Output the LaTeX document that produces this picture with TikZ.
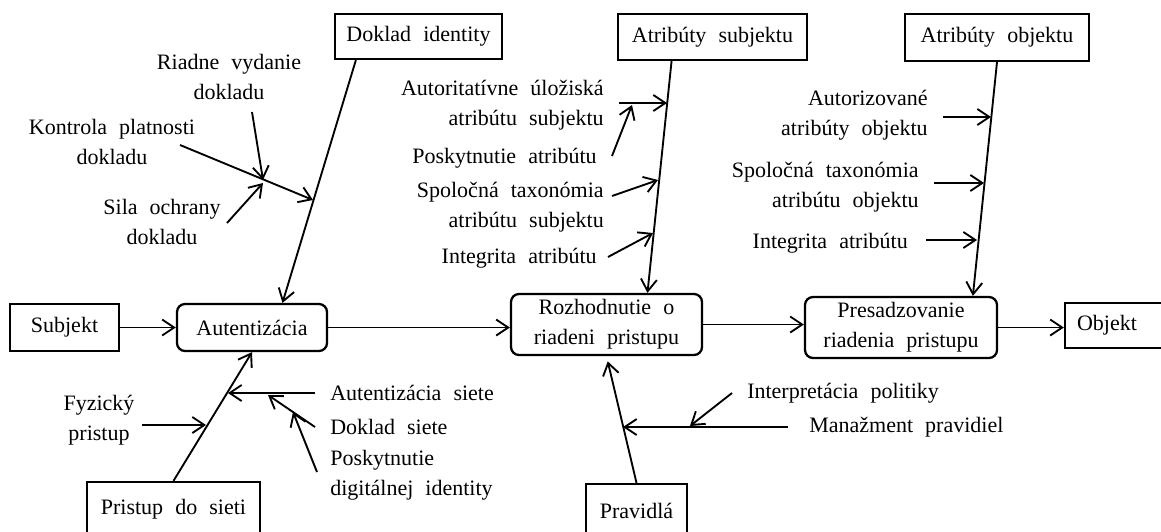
\documentclass[tikz,border=0pt]{standalone}
\usepackage{fontspec}
\setmainfont{Liberation Serif}[WordSpace=2.2]
\usetikzlibrary{arrows.meta,calc}

\tikzset{
  box/.style={draw, rectangle, line width=1.7pt, inner sep=0pt, align=center},
  proc/.style={box, rounded corners=6pt},
  lbl/.style={inner sep=0pt},
  arr/.style={line width=1.4pt, -{Straight Barb[length=9pt,width=12pt,line width=1.4pt]}},
}

\begin{document}
\begin{tikzpicture}[x=0.75pt, y=-0.75pt, font=\fontsize{16.5}{22.5}\selectfont]
\useasboundingbox (0,0) rectangle (1161,532);
\clip (0,0) rectangle (1161,532);

% --- cause boxes ---
\node[box, minimum width=125.25pt, minimum height=33.75pt] (di) at (418.5,36.5) {Doklad identity};
\node[box, minimum width=141.75pt, minimum height=34.5pt] (as) at (712.5,37) {Atribúty subjektu};
\node[box, minimum width=138pt, minimum height=35.25pt] (ao) at (997,37.5) {Atribúty objektu};
\node[box, minimum width=129.75pt, minimum height=40.5pt] (pds) at (173.5,509) {Pristup do sieti};
\node[box, minimum width=75.75pt, minimum height=40.5pt] (prv) at (636.5,511) {Pravidlá};

% --- main chain ---
\node[box, minimum width=81.75pt, minimum height=35.25pt] (sub) at (64.5,327.5) {Subjekt};
\node[proc, minimum width=112.5pt, minimum height=35.25pt] (aut) at (252,327.5) {Autentizácia};
\node[proc, minimum width=143.25pt, minimum height=45.75pt] (roz) at (606.5,324.5) {Rozhodnutie o\\riadeni pristupu};
\node[proc, minimum width=144pt, minimum height=45.75pt] (pre) at (901,327.5) {Presadzovanie\\riadenia pristupu};
\node[box, minimum height=33.75pt, text width=72pt, inner xsep=9pt, align=left] (obj) at (1125,325.5) {Objekt};

\draw[arr] (sub.east) -- (sub.east -| aut.west);
\draw[arr] (aut.east) -- (aut.east -| roz.west);
\draw[arr] (roz.east) -- (roz.east -| pre.west);
\draw[arr] (pre.east) -- (pre.east -| obj.west);

% --- main bones ---
\draw[arr] ($(di.south west)!0.13!(di.south east)$) -- ($(aut.north west)!0.7!(aut.north east)$);
\draw[arr] ($(as.south west)!0.286!(as.south east)$) -- ($(roz.north west)!0.712!(roz.north east)$);
\draw[arr] (ao.south) -- ($(pre.north west)!0.87!(pre.north east)$);
\draw[arr] (pds.north) -- (aut.south);
\draw[arr, shorten >=4pt] (prv.north) -- (roz.south);

% --- Doklad identity branch ---
\node[lbl, align=center] (t1) at (229,77) {Riadne vydanie\\dokladu};
\node[lbl, align=center] (t2) at (112,142) {Kontrola platnosti\\dokladu};
\node[lbl, align=center] (t3) at (162,222) {Sila ochrany\\dokladu};
\coordinate (k1) at (180,145); \coordinate (k1t) at (313,200);
\coordinate (r1) at (252,112); \coordinate (r1t) at (263,180);
\coordinate (s1) at (227,223); \coordinate (s1t) at (263,183);
\draw[arr] (k1) -- (k1t);
\draw[arr] (r1) -- (r1t);
\draw[arr] (s1) -- (s1t);

% --- subject attributes branch ---
\node[lbl, anchor=east, align=right] (t4) at (604,105) {Autoritatívne úložiská\\atribútu subjektu};
\node[lbl, anchor=east] (t5) at (597,158) {Poskytnutie atribútu};
\node[lbl, anchor=east, align=right] (t6) at (604,207) {Spoločná taxonómia\\atribútu subjektu};
\node[lbl, anchor=east] (t7) at (597,258) {Integrita atribútu};
\coordinate (a1) at (619,103); \coordinate (a1t) at (667,103);
\coordinate (p1) at (612,156); \coordinate (p1t) at (632,105);
\coordinate (st1) at (612,196); \coordinate (st1t) at (658,180);
\coordinate (i1) at (608,257); \coordinate (i1t) at (653,233);
\draw[arr] (a1) -- (a1t);
\draw[arr] (p1) -- (p1t);
\draw[arr] (st1) -- (st1t);
\draw[arr] (i1) -- (i1t);

% --- object attributes branch ---
\node[lbl, anchor=east, align=right] (t8) at (928,115) {Autorizované\\atribúty objektu};
\node[lbl, anchor=east, align=right] (t9) at (919,187) {Spoločná taxonómia\\atribútu objektu};
\node[lbl, anchor=east] (t10) at (908,243) {Integrita atribútu};
\coordinate (o1) at (943,117); \coordinate (o1t) at (991,117);
\coordinate (o2) at (934,183); \coordinate (o2t) at (984,183);
\coordinate (o3) at (926,240); \coordinate (o3t) at (977,240);
\draw[arr] (o1) -- (o1t);
\draw[arr] (o2) -- (o2t);
\draw[arr] (o3) -- (o3t);

% --- network access branch ---
\node[lbl, align=center] (t11) at (99,420) {Fyzický\\pristup};
\node[lbl, anchor=west] (t12) at (330,393) {Autentizácia siete};
\node[lbl, anchor=west] (t13) at (330,427) {Doklad siete};
\node[lbl, anchor=west, align=left] (t14) at (330,475) {Poskytnutie\\digitálnej identity};
\coordinate (f1) at (142,425); \coordinate (f1t) at (206,425);
\coordinate (n1) at (315,393); \coordinate (n1t) at (228,393);
\coordinate (d1) at (315,427); \coordinate (d1t) at (268,395);
\coordinate (g1) at (317,472); \coordinate (g1t) at (293,412);
\draw[arr] (f1) -- (f1t);
\draw[arr] (n1) -- (n1t);
\draw[arr] (d1) -- (d1t);
\draw[arr] (g1) -- (g1t);

% --- rules branch ---
\node[lbl, anchor=west] (t15) at (747,393) {Interpretácia politiky};
\node[lbl, anchor=west] (t16) at (809,427) {Manažment pravidiel};
\coordinate (m1) at (788,427); \coordinate (m1t) at (623,427);
\coordinate (q1) at (732,393); \coordinate (q1t) at (690,426);
\draw[arr] (m1) -- (m1t);
\draw[arr] (q1) -- (q1t);

\end{tikzpicture}
\end{document}
